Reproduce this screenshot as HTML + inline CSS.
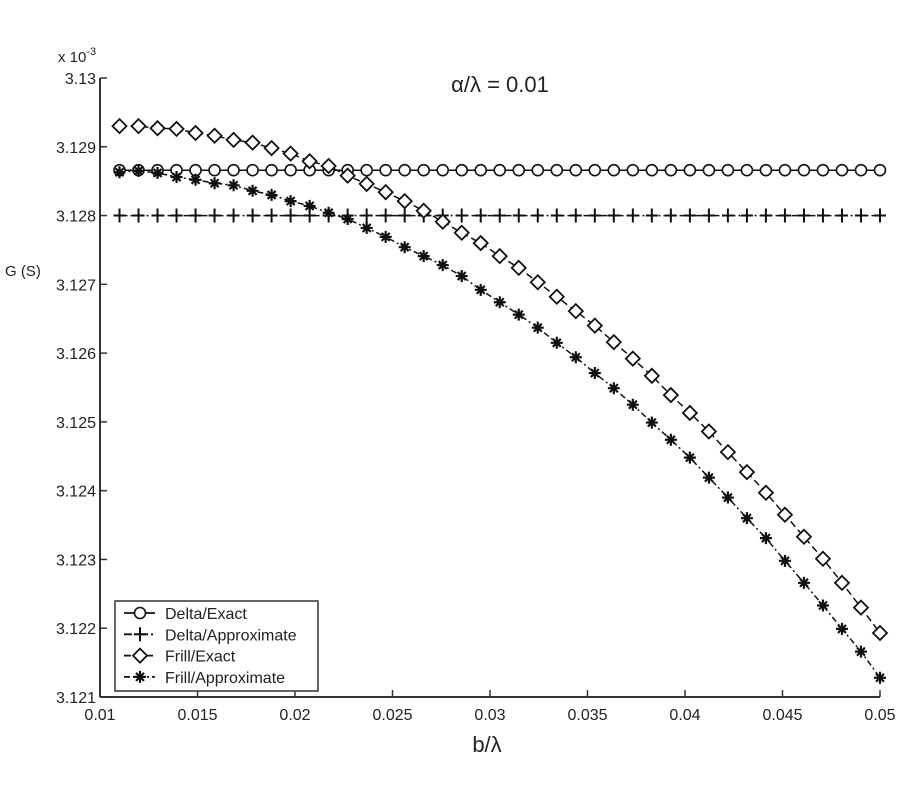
<!DOCTYPE html>
<html><head><meta charset="utf-8"><style>
html,body{margin:0;padding:0;background:#fff;}
svg{display:block;font-family:"Liberation Sans",sans-serif;}
</style></head><body>
<svg id="chart" width="900" height="800" viewBox="0 0 900 800">
<g id="axes"></g>
<g id="series"></g>
<text x="500" y="92" text-anchor="middle" font-size="22" fill="#222">α/λ = 0.01</text>
<text x="487" y="752" text-anchor="middle" font-size="22" fill="#222">b/λ</text>
<text x="5" y="276" font-size="15" fill="#222">G (S)</text>
<text x="58" y="62" font-size="15" fill="#222">x 10<tspan dy="-7" font-size="11">-3</tspan></text>
<g id="legend"></g>
</svg>
<script>
const xValues = [0.011,0.011975,0.01295,0.013925,0.0149,0.015875,0.01685,0.017825,0.0188,0.019775,0.02075,0.021725,0.0227,0.023675,0.02465,0.025625,0.0266,0.027575,0.02855,0.029525,0.0305,0.031475,0.03245,0.033425,0.0344,0.035375,0.03635,0.037325,0.0383,0.039275,0.04025,0.041225,0.0422,0.043175,0.04415,0.045125,0.0461,0.047075,0.04805,0.049025,0.05];
const deltaExact = [3.12866,3.12866,3.12866,3.12866,3.12866,3.12866,3.12866,3.12866,3.12866,3.12866,3.12866,3.12866,3.12866,3.12866,3.12866,3.12866,3.12866,3.12866,3.12866,3.12866,3.12866,3.12866,3.12866,3.12866,3.12866,3.12866,3.12866,3.12866,3.12866,3.12866,3.12866,3.12866,3.12866,3.12866,3.12866,3.12866,3.12866,3.12866,3.12866,3.12866,3.12866];
const deltaApprox = [3.128,3.128,3.128,3.128,3.128,3.128,3.128,3.128,3.128,3.128,3.128,3.128,3.128,3.128,3.128,3.128,3.128,3.128,3.128,3.128,3.128,3.128,3.128,3.128,3.128,3.128,3.128,3.128,3.128,3.128,3.128,3.128,3.128,3.128,3.128,3.128,3.128,3.128,3.128,3.128,3.128];
const frillExact = [3.12930,3.12930,3.12927,3.12926,3.12920,3.12916,3.12910,3.12906,3.12898,3.12890,3.12879,3.12872,3.12858,3.12846,3.12834,3.12821,3.12807,3.12791,3.12775,3.12760,3.12741,3.12724,3.12703,3.12682,3.12661,3.12640,3.12616,3.12592,3.12567,3.12539,3.12513,3.12486,3.12456,3.12427,3.12397,3.12365,3.12333,3.12301,3.12266,3.12230,3.12193];
const frillApprox = [3.12863,3.12865,3.12862,3.12856,3.12852,3.12847,3.12844,3.12836,3.12830,3.12821,3.12814,3.12804,3.12795,3.12782,3.12769,3.12754,3.12741,3.12728,3.12712,3.12692,3.12674,3.12656,3.12637,3.12615,3.12594,3.12571,3.12549,3.12525,3.12499,3.12474,3.12448,3.12419,3.12390,3.12360,3.12331,3.12298,3.12266,3.12233,3.12199,3.12166,3.12128];
const xTicks = [0.01,0.015,0.02,0.025,0.03,0.035,0.04,0.045,0.05];
const xTickLabels = ["0.01","0.015","0.02","0.025","0.03","0.035","0.04","0.045","0.05"];
const yTicks = [3.121,3.122,3.123,3.124,3.125,3.126,3.127,3.128,3.129,3.13];
const yTickLabels = ["3.121","3.122","3.123","3.124","3.125","3.126","3.127","3.128","3.129","3.13"];
const legendLabels = ["Delta/Exact","Delta/Approximate","Frill/Exact","Frill/Approximate"];

const NS="http://www.w3.org/2000/svg";
const X0=100,X1=880,Y0=697,Y1=78;
const xs=v=>X0+(v-0.01)/(0.05-0.01)*(X1-X0);
const ys=v=>Y0-(v-3.121)/(3.13-3.121)*(Y0-Y1);
function mk(tag,attrs,parent){const e=document.createElementNS(NS,tag);for(const k in attrs)e.setAttribute(k,attrs[k]);parent.appendChild(e);return e;}
const axes=document.getElementById('axes');
let e;
e=mk('line',{x1:X0,y1:Y0,x2:X1,y2:Y0,stroke:'#333','stroke-width':2},axes);


e=mk('line',{x1:X0,y1:Y0,x2:X0,y2:Y1,stroke:'#333','stroke-width':2},axes);


xTicks.forEach((t,i)=>{
  const x=xs(t);
  e=mk('line',{x1:x,y1:Y0,x2:x,y2:Y0-7,stroke:'#333','stroke-width':1.5},axes);
  
  
  e=mk('text',{x:x,y:Y0+23,'text-anchor':'middle','font-size':16,fill:'#222'},axes);
  e.textContent=xTickLabels[i];
  
  
});
yTicks.forEach((t,i)=>{
  const y=ys(t);
  e=mk('line',{x1:X0,y1:y,x2:X0+7,y2:y,stroke:'#333','stroke-width':1.5},axes);
  
  
  e=mk('text',{x:X0-4,y:y+6,'text-anchor':'end','font-size':16,fill:'#222'},axes);
  e.textContent=yTickLabels[i];
  
  
});
function marker(type,x,y,g){
  if(type==='circle') return mk('circle',{cx:x,cy:y,r:5.5,fill:'#fff',stroke:'#111','stroke-width':1.6},g);
  if(type==='plus') return mk('path',{d:`M${x-6},${y}H${x+6}M${x},${y-7}V${y+7}`,stroke:'#111','stroke-width':2,fill:'none'},g);
  if(type==='diamond') return mk('path',{d:`M${x},${y-7}L${x+7},${y}L${x},${y+7}L${x-7},${y}Z`,fill:'#fff',stroke:'#111','stroke-width':1.8},g);
  return mk('path',{d:`M${x-6},${y}H${x+6}M${x},${y-6}V${y+6}M${x-4},${y-4}L${x+4},${y+4}M${x-4},${y+4}L${x+4},${y-4}`,stroke:'#111','stroke-width':2.2,fill:'none'},g);
}
const seriesDefs=[
  {name:'delta-exact',vals:deltaExact,m:'circle',dash:''},
  {name:'delta-approximate',vals:deltaApprox,m:'plus',dash:'8 3 2 3'},
  {name:'frill-exact',vals:frillExact,m:'diamond',dash:'7 4'},
  {name:'frill-approximate',vals:frillApprox,m:'star',dash:'6 3 2 3'}
];
const sg=document.getElementById('series');
seriesDefs.forEach(s=>{
  const g=mk('g',{},sg);
  
  
  const pts=s.vals.map((v,i)=>xs(xValues[i]).toFixed(1)+','+ys(v).toFixed(1)).join(' ');
  const l=mk('polyline',{points:pts,fill:'none',stroke:'#111','stroke-width':1.5,'stroke-dasharray':s.dash},g);
  
  
  s.vals.forEach((v,i)=>{
    const m=marker(s.m,xs(xValues[i]),ys(v),g);
    
    
  });
});
const lg=document.getElementById('legend');
e=mk('rect',{x:115,y:601,width:203,height:90,fill:'#fff',stroke:'#333','stroke-width':1.5},lg);


seriesDefs.forEach((s,i)=>{
  const y=613+i*21.3;
  const g=mk('g',{},lg);
  
  
  mk('line',{x1:124,y1:y,x2:155,y2:y,stroke:'#111','stroke-width':1.8,'stroke-dasharray':s.dash||'none'},g);
  marker(s.m,140,y,g);
  const t=mk('text',{x:165,y:y+6,'font-size':16,fill:'#222'},g);
  t.textContent=legendLabels[i];
});
</script>
</body></html>
